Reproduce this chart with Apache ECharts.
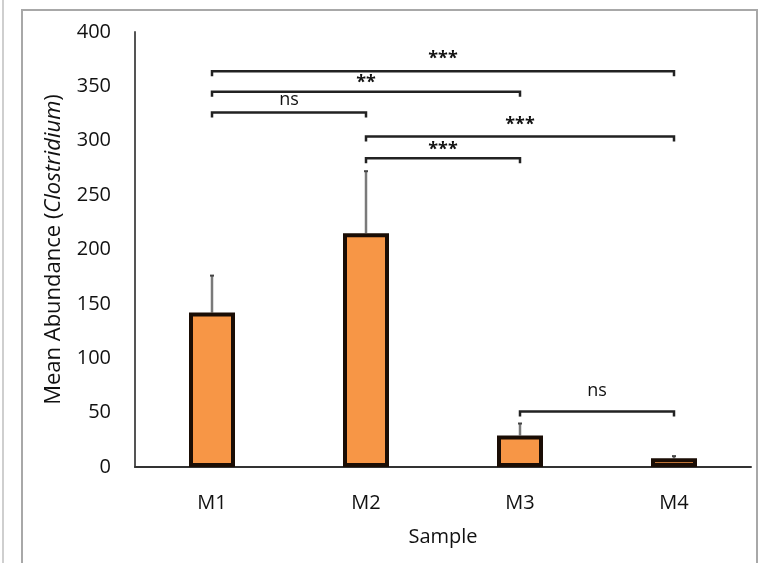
<!DOCTYPE html>
<html>
<head>
<meta charset="utf-8">
<script src="https://cdn.jsdelivr.net/npm/echarts@6/dist/echarts.min.js"></script>
<style>html,body{margin:0;padding:0;background:#fff;}#c{width:763px;height:563px;}</style>
</head>
<body>
<div id="c"></div>
<script>
var categories = ['M1', 'M2', 'M3', 'M4'];
var means = [142, 215, 29, 8];
var errors = [34, 57, 11, 2];
var bracketFrom = [0, 0, 0, 1, 1, 2];
var bracketTo = [3, 2, 1, 3, 2, 3];
var bracketY = [364, 345, 326, 304, 284, 51];
var bracketLabelY = [379, 357, 336, 318, 295, 69];
var bracketText = ['***', '**', 'ns', '***', '***', 'ns'];
var yTicks = [0, 50, 100, 150, 200, 250, 300, 350, 400];

var FONT = '"Open Sans", sans-serif';
var TXT = '#111';
var chart = echarts.init(document.getElementById('c'));

var errData = means.map(function (m, i) { return [i, m, m + errors[i]]; });
var brData = bracketY.map(function (y, i) { return [bracketFrom[i], bracketTo[i], y, bracketLabelY[i], i]; });

chart.setOption({
  animation: false,
  backgroundColor: '#fff',
  graphic: [
    { type: 'rect', shape: { x: 22, y: 10, width: 735, height: 580 }, style: { fill: 'none', stroke: '#a8a8a8', lineWidth: 2 }, z: -1 },
    { type: 'line', shape: { x1: 3, y1: 0, x2: 3, y2: 563 }, style: { stroke: '#cfcfcf', lineWidth: 2 }, z: -1 }
  ],
  grid: { left: 135, right: 12, top: 32, bottom: 96 },
  xAxis: {
    type: 'category',
    data: categories,
    name: 'Sample',
    nameLocation: 'middle',
    nameGap: 60,
    nameTextStyle: { fontFamily: FONT, fontSize: 20, color: TXT },
    axisLine: { lineStyle: { color: '#333', width: 2 } },
    axisTick: { show: false },
    axisLabel: { fontFamily: FONT, fontSize: 20, color: TXT, margin: 26 }
  },
  yAxis: {
    type: 'value',
    min: yTicks[0],
    max: yTicks[yTicks.length - 1],
    interval: 50,
    name: '{n|Mean Abundance (}{i|Clostridium}{n|)}',
    nameLocation: 'middle',
    nameGap: 70,
    nameRotate: 90,
    nameTextStyle: {
      rich: {
        n: { fontFamily: FONT, fontSize: 22, color: TXT },
        i: { fontFamily: FONT, fontSize: 22, color: TXT, fontStyle: 'italic' }
      }
    },
    axisLine: { show: true, lineStyle: { color: '#555', width: 2 } },
    axisTick: { show: false },
    splitLine: { show: false },
    axisLabel: { fontFamily: FONT, fontSize: 20, color: TXT, margin: 24 }
  },
  series: [
    {
      type: 'bar',
      data: means,
      barWidth: 46,
      itemStyle: { color: '#F79646', borderColor: '#1a0d05', borderWidth: 4 },
      z: 3
    },
    {
      type: 'custom',
      data: errData,
      z: 2,
      renderItem: function (params, api) {
        var x = api.value(0);
        var p0 = api.coord([x, api.value(1)]);
        var p1 = api.coord([x, api.value(2)]);
        return {
          type: 'group',
          children: [
            { type: 'line', shape: { x1: p0[0], y1: p0[1], x2: p1[0], y2: p1[1] }, style: { stroke: '#7a7a7a', lineWidth: 2.5 } },
            { type: 'line', shape: { x1: p1[0] - 2, y1: p1[1], x2: p1[0] + 2, y2: p1[1] }, style: { stroke: '#444', lineWidth: 2 } }
          ]
        };
      }
    },
    {
      type: 'custom',
      data: brData,
      z: 4,
      renderItem: function (params, api) {
        var a = api.coord([api.value(0), api.value(2)]);
        var b = api.coord([api.value(1), api.value(2)]);
        var ly = api.coord([api.value(0), api.value(3)])[1];
        var t = bracketText[api.value(4)];
        var isStar = t.indexOf('*') >= 0;
        return {
          type: 'group',
          children: [
            { type: 'polyline', shape: { points: [[a[0], a[1] + 5], [a[0], a[1]], [b[0], b[1]], [b[0], b[1] + 5]] }, style: { stroke: '#222', lineWidth: 2.5, fill: 'none' } },
            { type: 'text', style: { text: t, x: (a[0] + b[0]) / 2, y: ly + (isStar ? 4 : -1.5), align: 'center', verticalAlign: 'middle', fontFamily: FONT, fontSize: 18, fontWeight: isStar ? 'bold' : 'normal', fill: TXT } }
          ]
        };
      }
    }
  ]
});
</script>
</body>
</html>
